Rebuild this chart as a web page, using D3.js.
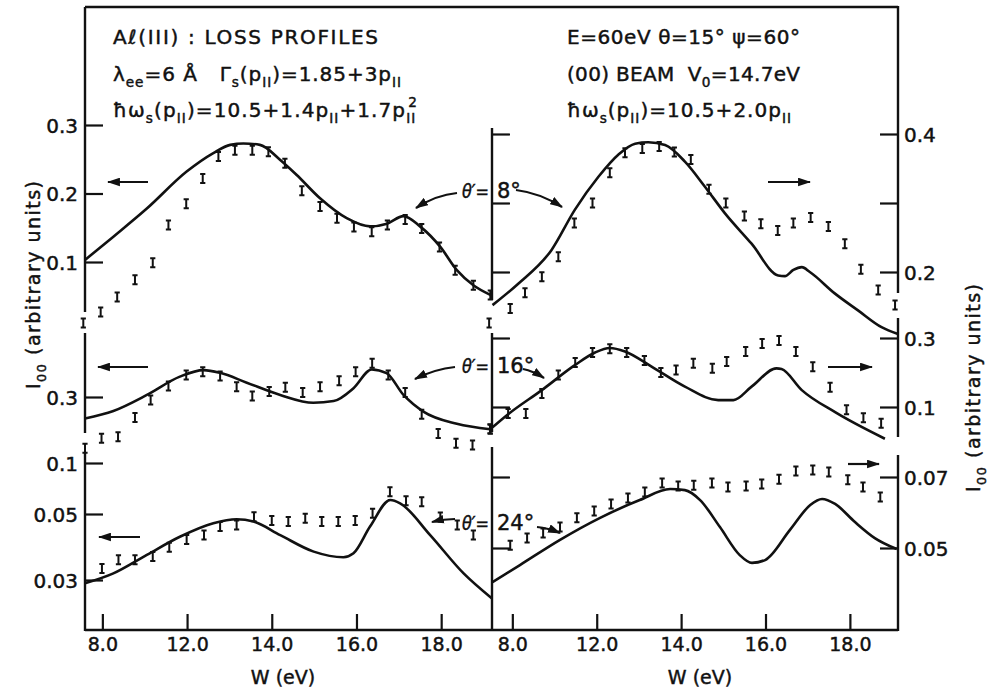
<!DOCTYPE html>
<html><head><meta charset="utf-8">
<script src="https://cdn.jsdelivr.net/npm/d3@7"></script>
<style>body{margin:0;background:#fff} text{stroke:#111;stroke-width:0.45px}</style>
</head><body><svg id="c" width="992" height="691"></svg>
<script>
// ---------- DATA ----------
const wTicks = [10, 12, 14, 16, 18];
const wTickLabels = ["8.0", "12.0", "14.0", "16.0", "18.0"];

// top-left (theta'=8 deg, left scale)
const tlCurveW = [9.59,10.26,11.05,11.99,12.62,13.02,13.33,13.72,14.20,14.59,15.14,15.77,16.32,16.72,17.11,17.50,17.98,18.37,18.76,19.16];
const tlCurveV = [0.103,0.137,0.178,0.232,0.259,0.271,0.273,0.271,0.249,0.227,0.193,0.164,0.152,0.156,0.167,0.152,0.122,0.088,0.066,0.052];
const tlDataW = [9.55,9.96,10.35,10.77,11.19,11.56,11.98,12.37,12.74,13.13,13.54,13.92,14.31,14.71,15.14,15.54,15.94,16.36,16.73,17.15,17.54,17.96,18.33,18.76,19.16];
const tlDataV = [0.011,0.027,0.049,0.074,0.099,0.154,0.185,0.222,0.254,0.263,0.263,0.261,0.244,0.204,0.181,0.164,0.151,0.144,0.154,0.162,0.149,0.122,0.088,0.066,0.052];

// top-right (theta'=8 deg, right scale)
const trCurveW = [9.53,10.14,10.93,11.48,12.04,12.51,12.91,13.22,13.62,14.09,14.56,15.04,15.67,16.30,16.46,16.66,16.86,17.05,17.64,18.20,18.75,19.14];
const trCurveV = [0.152,0.183,0.232,0.290,0.338,0.370,0.386,0.388,0.384,0.360,0.324,0.285,0.241,0.195,0.194,0.203,0.207,0.200,0.169,0.144,0.120,0.110];
const trDataW = [9.45,9.95,10.30,10.70,11.09,11.47,11.90,12.31,12.67,13.08,13.48,13.84,14.23,14.66,15.06,15.50,15.89,16.29,16.66,17.07,17.49,17.88,18.26,18.67,19.07];
const trDataV = [0.126,0.147,0.170,0.193,0.222,0.271,0.300,0.344,0.373,0.379,0.382,0.374,0.363,0.320,0.300,0.281,0.270,0.260,0.271,0.279,0.266,0.241,0.204,0.174,0.152];

// middle-left (theta'=16 deg)
const mlCurveW = [9.59,10.26,11.05,11.83,12.39,12.78,13.41,14.20,14.98,15.46,15.93,16.36,16.71,17.11,17.58,18.37,19.16];
const mlCurveV = [0.237,0.259,0.306,0.360,0.379,0.371,0.342,0.306,0.283,0.288,0.326,0.381,0.370,0.306,0.257,0.221,0.205];
const mlDataW = [9.59,9.98,10.37,10.77,11.14,11.56,11.98,12.37,12.78,13.17,13.54,13.94,14.32,14.73,15.14,15.59,15.98,16.37,16.75,17.15,17.54,17.93,18.35,18.74,19.16];
const mlDataV = [0.149,0.179,0.183,0.240,0.291,0.332,0.365,0.374,0.362,0.330,0.303,0.316,0.329,0.313,0.330,0.348,0.374,0.399,0.365,0.313,0.249,0.193,0.164,0.159,0.205];

// middle-right (theta'=16 deg)
const mrCurveW = [9.53,9.90,10.70,11.49,11.96,12.31,12.67,13.30,14.09,14.88,15.24,15.67,16.26,16.38,16.86,17.65,18.83];
const mrCurveV = [0.041,0.079,0.149,0.222,0.258,0.271,0.261,0.217,0.159,0.120,0.120,0.159,0.212,0.210,0.149,0.085,0.008];
const mrDataW = [9.47,9.90,10.32,10.70,11.09,11.49,11.90,12.31,12.71,13.13,13.52,13.88,14.29,14.74,15.08,15.53,15.92,16.32,16.72,17.12,17.53,17.92,18.32,18.74];
const mrDataV = [0.037,0.081,0.081,0.139,0.193,0.229,0.258,0.269,0.258,0.235,0.200,0.207,0.227,0.212,0.232,0.261,0.284,0.293,0.261,0.217,0.157,0.092,0.069,0.053];

// bottom-left (theta'=24 deg)
const blCurveW = [9.59,10.26,11.05,11.83,12.62,13.17,13.57,14.20,14.99,15.69,15.93,16.32,16.80,17.03,17.74,18.53,19.20];
const blCurveV = [0.029,0.032,0.0376,0.0431,0.0472,0.0484,0.0477,0.0436,0.0386,0.0369,0.0381,0.0462,0.0637,0.0605,0.0436,0.032,0.0244];
const blDataW = [9.99,10.38,10.77,11.19,11.58,11.99,12.40,12.78,13.17,13.58,14.00,14.39,14.79,15.18,15.57,15.97,16.38,16.79,17.17,17.54,17.98,18.38,18.76];
const blDataV = [0.0335,0.0361,0.0361,0.0371,0.0399,0.0423,0.0436,0.0462,0.0467,0.0492,0.048,0.0477,0.0487,0.0477,0.0477,0.048,0.0507,0.0719,0.063,0.062,0.0491,0.0467,0.0436];

// bottom-right (theta'=24 deg)
const brCurveW = [9.53,10.18,11.13,12.08,13.02,13.74,14.09,14.45,14.92,15.39,15.68,15.99,16.58,17.06,17.34,17.65,18.12,18.59,19.11];
const brCurveV = [0.0404,0.0452,0.0523,0.0585,0.0635,0.0666,0.0663,0.0635,0.0559,0.048,0.0458,0.0466,0.0551,0.0621,0.0638,0.0624,0.0573,0.0528,0.0497];
const brDataW = [9.95,10.35,10.73,11.13,11.53,11.94,12.34,12.74,13.14,13.55,13.93,14.30,14.73,15.11,15.54,15.91,16.32,16.72,17.12,17.50,17.95,18.31,18.72];
const brDataV = [0.0508,0.0528,0.0542,0.0559,0.0585,0.0604,0.0624,0.0641,0.0658,0.0683,0.0675,0.0677,0.0683,0.0672,0.0675,0.068,0.0694,0.0717,0.072,0.0714,0.0692,0.0672,0.0644];

// y-axis ticks
const tlTicks = [0.1, 0.2, 0.3], tlLabels = ["0.1", "0.2", "0.3"];
const mlTicks = [0.3], mlLabels = ["0.3"];
const blTicks = [0.03, 0.05, 0.1], blLabels = ["0.03", "0.05", "0.1"];
const trTicks = [0.2, 0.3, 0.4], trLabels = ["0.2", "", "0.4"];
const mrTicks = [0.1, 0.3], mrLabels = ["0.1", "0.3"];
const brTicks = [0.05, 0.07], brLabels = ["0.05", "0.07"];

// ---------- DRAW ----------
const FONT = "DejaVu Sans";
const svg = d3.select("#c");
const ink = "#111";

const defs = svg.append("defs");
defs.append("marker").attr("id", "ah").attr("markerUnits", "userSpaceOnUse")
  .attr("viewBox", "0 0 12 8").attr("markerWidth", 13).attr("markerHeight", 9)
  .attr("refX", 11).attr("refY", 4).attr("orient", "auto")
  .append("path").attr("d", "M0,0 L12,4 L0,8 Z").attr("fill", ink);

const xL = d3.scaleLinear().domain([9.59, 19.2]).range([85, 492]);
const xR = d3.scaleLinear().domain([9.53, 19.14]).range([492.5, 898]);

const yTL = d3.scaleLinear().domain([0.1, 0.3]).range([262, 125]);
const yML = d3.scaleLinear().domain([0.3, 0.4]).range([397, 363]);
const yBL = d3.scaleLinear().domain([0.03, 0.05, 0.1]).range([580, 514, 463]);
const yTR = d3.scaleLinear().domain([0.2, 0.4]).range([272, 134]);
const yMR = d3.scaleLinear().domain([0.1, 0.3]).range([407, 338]);
const yBR = d3.scaleLinear().domain([0.05, 0.07]).range([548, 477]);

const panels = [
  {x: xL, y: yTL, cw: tlCurveW, cv: tlCurveV, dw: tlDataW, dv: tlDataV},
  {x: xR, y: yTR, cw: trCurveW, cv: trCurveV, dw: trDataW, dv: trDataV},
  {x: xL, y: yML, cw: mlCurveW, cv: mlCurveV, dw: mlDataW, dv: mlDataV},
  {x: xR, y: yMR, cw: mrCurveW, cv: mrCurveV, dw: mrDataW, dv: mrDataV},
  {x: xL, y: yBL, cw: blCurveW, cv: blCurveV, dw: blDataW, dv: blDataV},
  {x: xR, y: yBR, cw: brCurveW, cv: brCurveV, dw: brDataW, dv: brDataV},
];

// frame with broken vertical axes
const frame = svg.append("g").attr("stroke", ink).attr("stroke-width", 2.4).attr("fill", "none");
frame.append("path").attr("d", "M85,7 H898");
frame.append("path").attr("d", "M85,630 H898");
[[85, [[7, 312], [333, 433], [452, 631]]],
 [492, [[128, 300], [333, 432], [447, 631]]],
 [898, [[6, 293], [318, 437], [455, 631]]]].forEach(([x, segs]) => {
  segs.forEach(([a, b]) => frame.append("path").attr("d", `M${x},${a} V${b}`));
});

function styleAxis(g, size) {
  g.select(".domain").remove();
  g.selectAll(".tick line").attr("stroke", ink).attr("stroke-width", 2.2);
  g.selectAll(".tick text").attr("fill", ink).attr("font-family", FONT).attr("font-size", size);
}
function yAxisLeft(scale, ticks, labels, x, showLabels) {
  const g = svg.append("g").attr("transform", `translate(${x},0)`)
    .call(d3.axisLeft(scale).tickValues(ticks).tickSizeInner(-18).tickSizeOuter(0).tickPadding(7)
      .tickFormat((d, i) => showLabels ? labels[i] : ""));
  styleAxis(g, 20);
  g.selectAll(".tick text").attr("dy", "0.36em");
}
function yAxisRight(scale, ticks, labels, x) {
  const g = svg.append("g").attr("transform", `translate(${x},0)`)
    .call(d3.axisRight(scale).tickValues(ticks).tickSizeInner(-18).tickSizeOuter(0).tickPadding(6)
      .tickFormat((d, i) => labels[i]));
  styleAxis(g, 20);
  g.selectAll(".tick text").attr("dy", "0.36em");
}
yAxisLeft(yTL, tlTicks, tlLabels, 85, true);
yAxisLeft(yML, mlTicks, mlLabels, 85, true);
yAxisLeft(yBL, blTicks, blLabels, 85, true);
yAxisLeft(yTR, trTicks, trLabels, 492, false);
yAxisLeft(yMR, mrTicks, mrLabels, 492, false);
yAxisLeft(yBR, brTicks, brLabels, 492, false);
yAxisRight(yTR, trTicks, trLabels, 898);
yAxisRight(yMR, mrTicks, mrLabels, 898);
yAxisRight(yBR, brTicks, brLabels, 898);

[xL, xR].forEach(xs => {
  const g = svg.append("g").attr("transform", "translate(0,630)")
    .call(d3.axisBottom(xs).tickValues(wTicks).tickSizeInner(-16).tickSizeOuter(0).tickPadding(8)
      .tickFormat((d, i) => wTickLabels[i]));
  styleAxis(g, 19);
});

// curves and data points
panels.forEach(p => {
  const pts = p.cw.map((w, i) => [w, p.cv[i]]);
  const line = d3.line().x(d => p.x(d[0])).y(d => p.y(d[1])).curve(d3.curveMonotoneX);
  svg.append("path").attr("d", line(pts)).attr("fill", "none").attr("stroke", ink)
    .attr("stroke-width", 2.6).attr("stroke-linejoin", "round");
  const dg = svg.append("g").attr("stroke", ink).attr("stroke-width", 2).attr("fill", "none");
  p.dw.forEach((w, i) => {
    const cx = p.x(w), cy = p.y(p.dv[i]);
    dg.append("path").attr("d", `M${cx - 2.6},${cy - 4.5} h5.2 M${cx},${cy - 4.5} v9 M${cx - 2.6},${cy + 4.5} h5.2`);
  });
});

// rich text helper
function rich(x, y, parts, size, opts = {}) {
  const t = svg.append("text").attr("x", x).attr("y", y).attr("font-size", size)
    .attr("font-family", FONT).attr("fill", ink).style("white-space", "pre");
  if (opts.anchor) t.attr("text-anchor", opts.anchor);
  if (opts.transform) t.attr("transform", opts.transform);
  if (opts.len) t.attr("textLength", opts.len).attr("lengthAdjust", "spacing");
  let cur = 0;
  parts.forEach(([s, m, dx]) => {
    const off = m === "sub" ? 0.32 * size : m === "sup" ? -0.5 * size : 0;
    const ts = t.append("tspan").text(s).attr("dy", off - cur);
    if (m !== "n") ts.attr("font-size", size * 0.68);
    if (dx) ts.attr("dx", dx);
    cur = off;
  });
  return t;
}

const PAR = "II";
// header texts
rich(113, 44, [["A\u2113(III) : LOSS PROFILES", "n"]], 20, {len: 265});
rich(113, 81, [["\u03bb", "n"], ["ee", "sub"], ["=6 \u00c5   \u0393", "n"], ["s", "sub"], ["(p", "n"], [PAR, "sub"], [")=1.85+3p", "n"], [PAR, "sub"]], 20, {len: 288});
rich(113, 117, [["\u0127\u03c9", "n"], ["s", "sub"], ["(p", "n"], [PAR, "sub"], [")=10.5+1.4p", "n"], [PAR, "sub"], ["+1.7p", "n"], [PAR, "sub"], ["2", "sup", -8]], 20, {len: 304});
rich(567, 44, [["E=60eV \u03b8=15\u00b0 \u03c8=60\u00b0", "n"]], 20, {len: 233});
rich(567, 81, [["(00) BEAM  V", "n"], ["0", "sub"], ["=14.7eV", "n"]], 20, {len: 233});
rich(567, 117, [["\u0127\u03c9", "n"], ["s", "sub"], ["(p", "n"], [PAR, "sub"], [")=10.5+2.0p", "n"], [PAR, "sub"]], 20, {len: 224});

// theta' labels
[[198, "8\u00b0"], [373, "16\u00b0"], [530, "24\u00b0"]].forEach(([y, s]) => {
  svg.append("text").attr("x", 462).attr("y", y).attr("font-family", FONT)
    .attr("font-size", 20).attr("font-style", "italic").attr("fill", ink)
    .attr("textLength", 27).attr("lengthAdjust", "spacingAndGlyphs").text("\u03b8\u2032=");
  svg.append("text").attr("x", 497).attr("y", y).attr("font-family", FONT)
    .attr("font-size", 21).attr("fill", ink).text(s);
});

// arrows
const arrows = svg.append("g").attr("stroke", ink).attr("stroke-width", 2.2).attr("fill", "none");
[[148, 108, 182], [148, 98, 367], [140, 99, 537], [768, 810, 182], [828, 872, 367], [848, 879, 464]]
  .forEach(([x1, x2, y]) => arrows.append("path").attr("d", `M${x1},${y} H${x2}`).attr("marker-end", "url(#ah)"));
[[457, 193, 436, 195, 416, 208], [516, 190, 540, 193, 562, 207],
 [455, 367, 435, 369, 415, 379], [523, 369, 533, 371, 544, 378],
 [455, 519, 444, 519, 432, 522], [537, 527, 548, 528, 560, 533]]
  .forEach(([a, b, c, d, e, f]) => arrows.append("path").attr("d", `M${a},${b} Q${c},${d} ${e},${f}`).attr("marker-end", "url(#ah)"));

// axis titles
rich(0, 0, [["I", "n"], ["00", "sub"], [" (arbitrary units)", "n"]], 19, {anchor: "middle", len: 208, transform: "translate(40,285) rotate(-90)"});
rich(0, 0, [["I", "n"], ["00", "sub"], [" (arbitrary units)", "n"]], 19, {anchor: "middle", len: 208, transform: "translate(980,388) rotate(-90)"});
[283, 700].forEach(x => svg.append("text").attr("x", x).attr("y", 684).attr("text-anchor", "middle")
  .attr("font-family", FONT).attr("font-size", 19).attr("fill", ink).style("white-space", "pre").text("W (eV)"));
</script></body></html>
